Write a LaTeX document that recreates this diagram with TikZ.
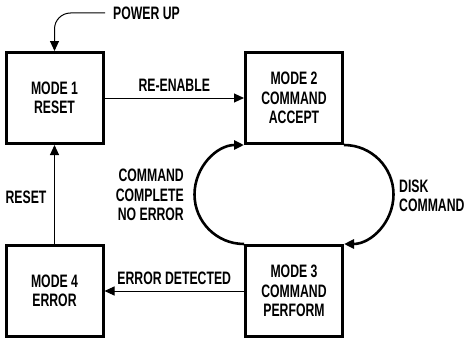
\documentclass[tikz,border=0pt]{standalone}
\usepackage{fontspec}
\setmainfont{Liberation Sans}[FakeStretch=0.70,BoldFont={Liberation Sans Bold},BoldFeatures={FakeStretch=0.68}]
\usetikzlibrary{arrows.meta,positioning}
\begin{document}
\begin{tikzpicture}[x=1pt,y=1pt,
  modebox/.style={draw=black,line width=3pt,minimum width=97pt,minimum height=91pt,
    align=center,font=\fontsize{18}{19.5}\selectfont\bfseries,inner sep=0pt},
  lbl/.style={font=\fontsize{18}{19.5}\selectfont\bfseries,inner sep=0pt},
  conn/.style={line width=1pt,-{Triangle[length=10pt,width=9pt]}},
  loop/.style={line width=2.6pt,-{Triangle[length=10pt,width=9pt]}}]
\useasboundingbox (0,0) rectangle (466,341);
\node[modebox] (m1) at (54.5,243) {MODE 1\\RESET};
\node[modebox] (m2) at (294,243) {MODE 2\\COMMAND\\ACCEPT};
\node[modebox] (m3) at (294,50) {MODE 3\\COMMAND\\PERFORM};
\node[modebox] (m4) at (54.5,50) {MODE 4\\ERROR};
\node[lbl,anchor=west] (pu) at (113,328) {POWER UP};
\coordinate (pus) at (105,328);
\draw[conn,rounded corners=16pt] (pus) -| (m1.north);
\draw[conn] (m1.east) -- node[lbl,above=6pt] {RE-ENABLE} (m2.west);
\draw[conn] (m4.north) -- (m1.south);
\node[lbl] (rs) at (26,144) {RESET};
\draw[conn] (m3.west) -- node[lbl,above=6pt] {ERROR DETECTED} (m4.east);
\draw[loop] (m3.north west) arc[start angle=-90,end angle=-270,radius=49.5];
\draw[loop] (m2.south east) arc[start angle=90,end angle=-90,radius=49.5];
\node[lbl,align=right,anchor=east] (cc) at (184,146) {COMMAND\\COMPLETE\\NO ERROR};
\node[lbl,align=left,anchor=west] (dc) at (399,145) {DISK\\COMMAND};
\end{tikzpicture}
\end{document}
